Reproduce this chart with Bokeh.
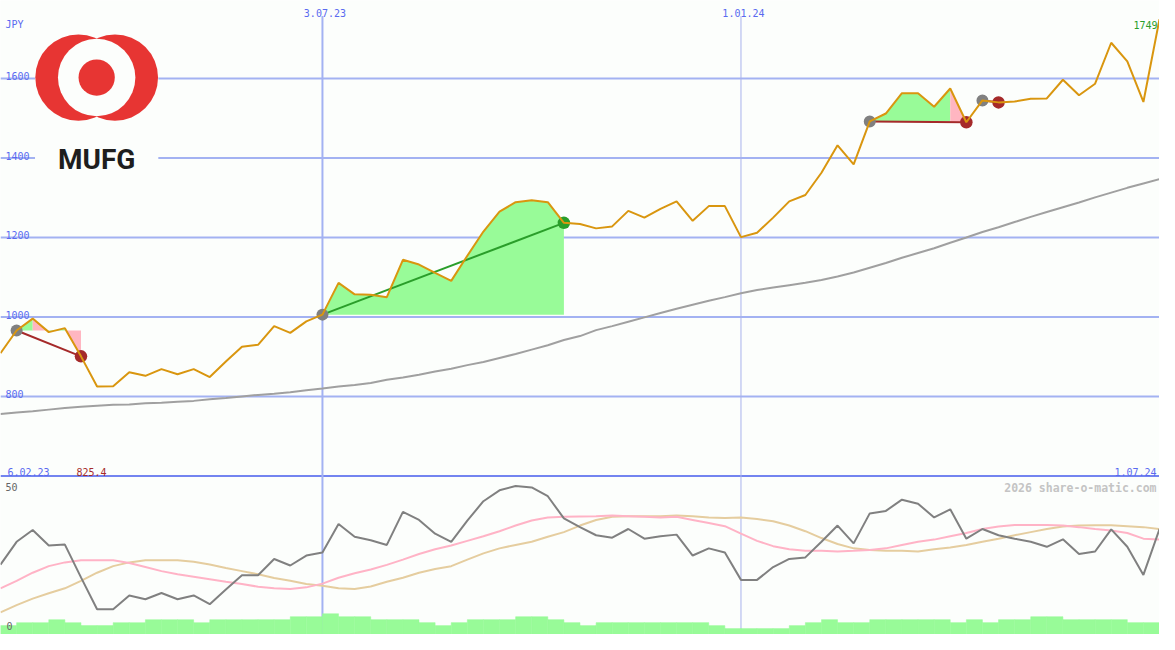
import pandas as pd
from bokeh.plotting import figure
from bokeh.models import Range1d, Label
from bokeh.embed import file_html
from bokeh.resources import INLINE

# ---------------- data ----------------
dates = pd.date_range("2023-02-13", periods=73, freq="7D")

price = [909, 966, 996, 962, 972, 901, 825.4, 826, 861, 852,
         869, 856, 869, 849, 888, 925, 930, 977, 960, 989,
         1006, 1086, 1057, 1056, 1050, 1144, 1132, 1111, 1091, 1154,
         1215, 1265, 1289, 1294, 1289, 1237, 1234, 1223, 1228, 1267,
         1250, 1272, 1291, 1242, 1279, 1279, 1201, 1212, 1250, 1291,
         1307, 1363, 1432, 1384, 1492, 1512, 1563, 1563, 1529, 1575,
         1490, 1545, 1540, 1542, 1549, 1550, 1597, 1558, 1587, 1690,
         1643, 1541, 1749]

sma = [756, 760, 763, 767, 771, 774, 777, 779, 780, 783,
       784, 787, 789, 793, 796, 800, 804, 807, 811, 816,
       820, 825, 829, 834, 842, 848, 855, 863, 870, 879,
       887, 897, 907, 918, 929, 942, 952, 967, 977, 988,
       999, 1010, 1021, 1031, 1041, 1050, 1060, 1068, 1074, 1080,
       1086, 1093, 1102, 1112, 1124, 1136, 1149, 1161, 1173, 1187,
       1200, 1214, 1226, 1239, 1252, 1264, 1276, 1288, 1301, 1313,
       1325, 1336, 1347]

osc = [22.4, 29.7, 33.5, 28.5, 28.8, 18.3, 8.1, 8.1, 12.5, 11.3,
       13.3, 11.3, 12.5, 9.7, 14.4, 19.0, 19.0, 24.2, 22.1, 25.3,
       26.3, 35.4, 31.3, 30.2, 28.7, 39.3, 36.7, 32.3, 29.7, 36.5,
       42.7, 46.2, 47.6, 47.1, 44.3, 37.2, 34.4, 31.8, 31.0, 33.8,
       30.7, 31.5, 32.0, 25.3, 27.6, 26.3, 17.5, 17.5, 21.6, 24.2,
       24.7, 29.7, 34.9, 29.2, 38.8, 39.6, 43.2, 41.9, 37.5, 40.1,
       30.7, 33.8, 31.8, 30.7, 29.7, 28.1, 30.5, 25.8, 26.6, 33.7,
       28.1, 19.1, 33.8]

osc_fast = [14.8, 17.2, 19.8, 21.9, 23.1, 23.8, 23.8, 23.8, 22.9, 21.6,
            20.3, 19.3, 18.5, 17.7, 16.9, 16.2, 15.3, 14.8, 14.6, 15.1,
            16.3, 18.2, 19.6, 20.8, 22.3, 24.0, 25.8, 27.3, 28.5, 30.0,
            31.5, 33.1, 34.9, 36.5, 37.5, 37.7, 37.8, 37.9, 38.1, 37.9,
            37.7, 37.5, 37.7, 36.7, 35.7, 34.7, 32.3, 30.0, 28.3, 27.3,
            26.8, 26.8, 26.6, 26.8, 27.1, 27.6, 28.7, 29.7, 30.4, 31.5,
            32.5, 33.8, 34.6, 35.1, 35.1, 35.1, 34.9, 34.4, 33.8, 33.3,
            32.5, 30.7, 30.4]

osc_slow = [7.1, 9.4, 11.5, 13.2, 14.8, 17.2, 19.8, 21.9, 23.1, 23.8,
            23.8, 23.8, 23.3, 22.4, 21.3, 20.3, 19.3, 18.1, 17.2, 16.2,
            15.6, 14.8, 14.6, 15.4, 16.9, 18.2, 19.8, 21.0, 21.9, 24.0,
            26.0, 27.6, 28.7, 29.7, 31.3, 32.8, 34.9, 36.7, 37.7, 37.9,
            37.9, 37.9, 38.1, 37.9, 37.5, 37.3, 37.5, 37.0, 36.3, 34.9,
            33.1, 30.9, 29.0, 27.6, 27.1, 26.8, 26.8, 26.6, 27.3, 27.9,
            28.7, 29.7, 30.7, 31.8, 32.8, 33.8, 34.6, 34.9, 35.0, 35.0,
            34.7, 34.4, 33.8]

volume = [3, 4, 4, 5, 4, 3, 3, 4, 4, 5,
          5, 5, 4, 5, 5, 5, 5, 5, 6, 6,
          7, 6, 6, 5, 5, 5, 4, 3, 4, 5,
          5, 5, 6, 6, 5, 4, 3, 4, 4, 4,
          4, 4, 4, 4, 3, 2, 2, 2, 2, 3,
          4, 5, 4, 4, 5, 5, 5, 5, 5, 4,
          5, 4, 5, 5, 6, 6, 5, 5, 5, 5,
          4, 4]

trade_entry = [1, 20, 54, 61]
trade_exit = [5, 35, 60, 62]

grid_levels = [800, 1000, 1200, 1400, 1600]
marked_dates = ["3.07.23", "1.01.24"]
marked_idx = [20, 46]
start_label = "6.02.23"
end_label = "1.07.24"
min_label = "825.4"
last_label = "1749"
unit_label = "JPY"

# ---------------- geometry helpers (reference pixel -> data) ----------------
W, H = 1159, 634
xs = [d.value / 1e6 for d in dates]
x0, x1 = xs[0], xs[-1]
PPU = 81.5 / 200.0                 # pixels per JPY
PY0 = 600 - 162.5 / PPU            # price value at bottom edge
PY1 = PY0 + 650 / PPU              # price value at top edge
IND_TOP = 650 / 3.2                # indicator value at top edge


def X(px):
    return x0 + px / 1175.0 * (x1 - x0)


def Y(py):
    return PY0 + (650 - py) / PPU


def py_of(v):
    return 650 - (v - PY0) * PPU


S = 0.98
BG = "#FCFEFC"
BLUE_TXT = "#5A6AF0"
GRID = "#A3B2F2"
GREEN_FILL = "#98FB98"
PINK_FILL = "#FFB6C1"
BROWN = "#A52A2A"
GREEN = "#2A9E2A"

p = figure(width=W, height=H, x_range=Range1d(x0, x1), y_range=Range1d(PY0, PY1),
           x_axis_type=None, y_axis_type=None, output_backend="svg",
           toolbar_location=None, min_border=0, background_fill_color=BG,
           border_fill_color=BG, outline_line_color=None)
p.grid.visible = False
p.extra_y_ranges = {"ind": Range1d(0, IND_TOP)}

# horizontal grid
p.segment(x0=[x0] * len(grid_levels), x1=[x1] * len(grid_levels),
          y0=grid_levels, y1=grid_levels, line_color=GRID, line_width=2)
# separator between panels
p.segment(x0=[x0], x1=[x1], y0=[600], y1=[600], line_color="#7384F0", line_width=2)
# vertical date lines
p.segment(x0=[xs[marked_idx[0]]], x1=[xs[marked_idx[0]]], y0=[Y(16)], y1=[PY0],
          line_color=GRID, line_width=2)
p.segment(x0=[xs[marked_idx[1]]], x1=[xs[marked_idx[1]]], y0=[Y(16)], y1=[PY0],
          line_color="#A8B2EC", line_width=1)

# ---------------- logo ----------------
p.quad(left=[X(35)], right=[X(160)], bottom=[Y(168)], top=[Y(32)],
       fill_color=BG, line_color=None)
p.scatter(x=[X(79), X(116)], y=[Y(79), Y(79)], size=88 * S, marker="circle",
          fill_color="#E73533", line_color=None)
p.scatter(x=[X(97.5)], y=[Y(79)], size=79 * S, marker="circle",
          fill_color=BG, line_color=None)
p.scatter(x=[X(97.5)], y=[Y(79)], size=37 * S, marker="circle",
          fill_color="#E73533", line_color=None)
p.add_layout(Label(x=X(97.5), y=Y(163), text="MUFG", text_align="center",
                   text_baseline="alphabetic", text_font="Roboto",
                   text_font_style="bold", text_font_size="28px", text_color="#1E1E1E"))

# ---------------- trades fills (runs of same colour merged) ----------------
pxs, pys, pcol = [], [], []
for e, x_ in zip(trade_entry, trade_exit):
    lvl = price[e]
    cols = [GREEN_FILL if price[i + 1] > lvl else PINK_FILL for i in range(e, x_)]
    i = e
    while i < x_:
        j = i
        while j + 1 < x_ and cols[j + 1 - e] == cols[i - e]:
            j += 1
        idx = list(range(i, j + 2))
        pxs.append([xs[i]] + [xs[k] for k in idx] + [xs[j + 1]])
        pys.append([lvl] + [price[k] for k in idx] + [lvl])
        pcol.append(cols[i - e])
        i = j + 1
p.patches(pxs, pys, fill_color=pcol, line_color=None)

# long moving average
p.line(xs, sma, line_color="#A0A0A0", line_width=2)

# trade lines
tcol = [GREEN if price[x_] > price[e] else BROWN for e, x_ in zip(trade_entry, trade_exit)]
p.segment(x0=[xs[e] for e in trade_entry], y0=[price[e] for e in trade_entry],
          x1=[xs[x_] for x_ in trade_exit], y1=[price[x_] for x_ in trade_exit],
          line_color=tcol, line_width=2)
p.scatter(x=[xs[e] for e in trade_entry], y=[price[e] for e in trade_entry],
          size=12, marker="circle", fill_color="#808080", line_color=None)
p.scatter(x=[xs[x_] for x_ in trade_exit], y=[price[x_] for x_ in trade_exit],
          size=12.5, marker="circle", fill_color=tcol, line_color=None)

# price
p.line(xs, price, line_color="#D9960F", line_width=2)

# ---------------- indicator panel ----------------
p.quad(left=xs[:-1], right=xs[1:], bottom=0, top=[v * 0.95 for v in volume],
       y_range_name="ind", fill_color=GREEN_FILL, line_color=GREEN_FILL, line_width=0.5)
p.line(xs, osc_slow, y_range_name="ind", line_color="#E5CD9F", line_width=2)
p.line(xs, osc_fast, y_range_name="ind", line_color="#FFB3C6", line_width=2)
p.line(xs, osc, y_range_name="ind", line_color="#808080", line_width=2)

# ---------------- texts ----------------
MONO = "DejaVu Sans Mono"


def lab(text, px, py, align="left", color=BLUE_TXT, size="10px", style="normal"):
    p.add_layout(Label(x=X(px), y=Y(py), text=text, text_align=align,
                       text_baseline="alphabetic", text_font=MONO,
                       text_font_size=size, text_color=color, text_font_style=style))


lab(unit_label, 5, 25)
for lv in grid_levels:
    lab(str(lv), 5, py_of(lv) - 2.5)
for txt, idx in zip(marked_dates, marked_idx):
    px = (xs[idx] - x0) / (x1 - x0) * 1175
    lab(txt, px + 2.5, 13, align="center")
lab(start_label, 7, 483)
lab(min_label, 77, 483, color=BROWN)
lab(end_label, 1172, 483, align="right")
lab(last_label, 1173, 25, align="right", color=GREEN)
lab("50", 5, 499, color="#666666")
lab("0", 6, 641, color="#666666")
lab("2026 share-o-matic.com", 1172, 500, align="right", color="#C4C4C4",
    size="11.5px", style="bold")

open("out.html", "w").write(file_html(p, INLINE))
